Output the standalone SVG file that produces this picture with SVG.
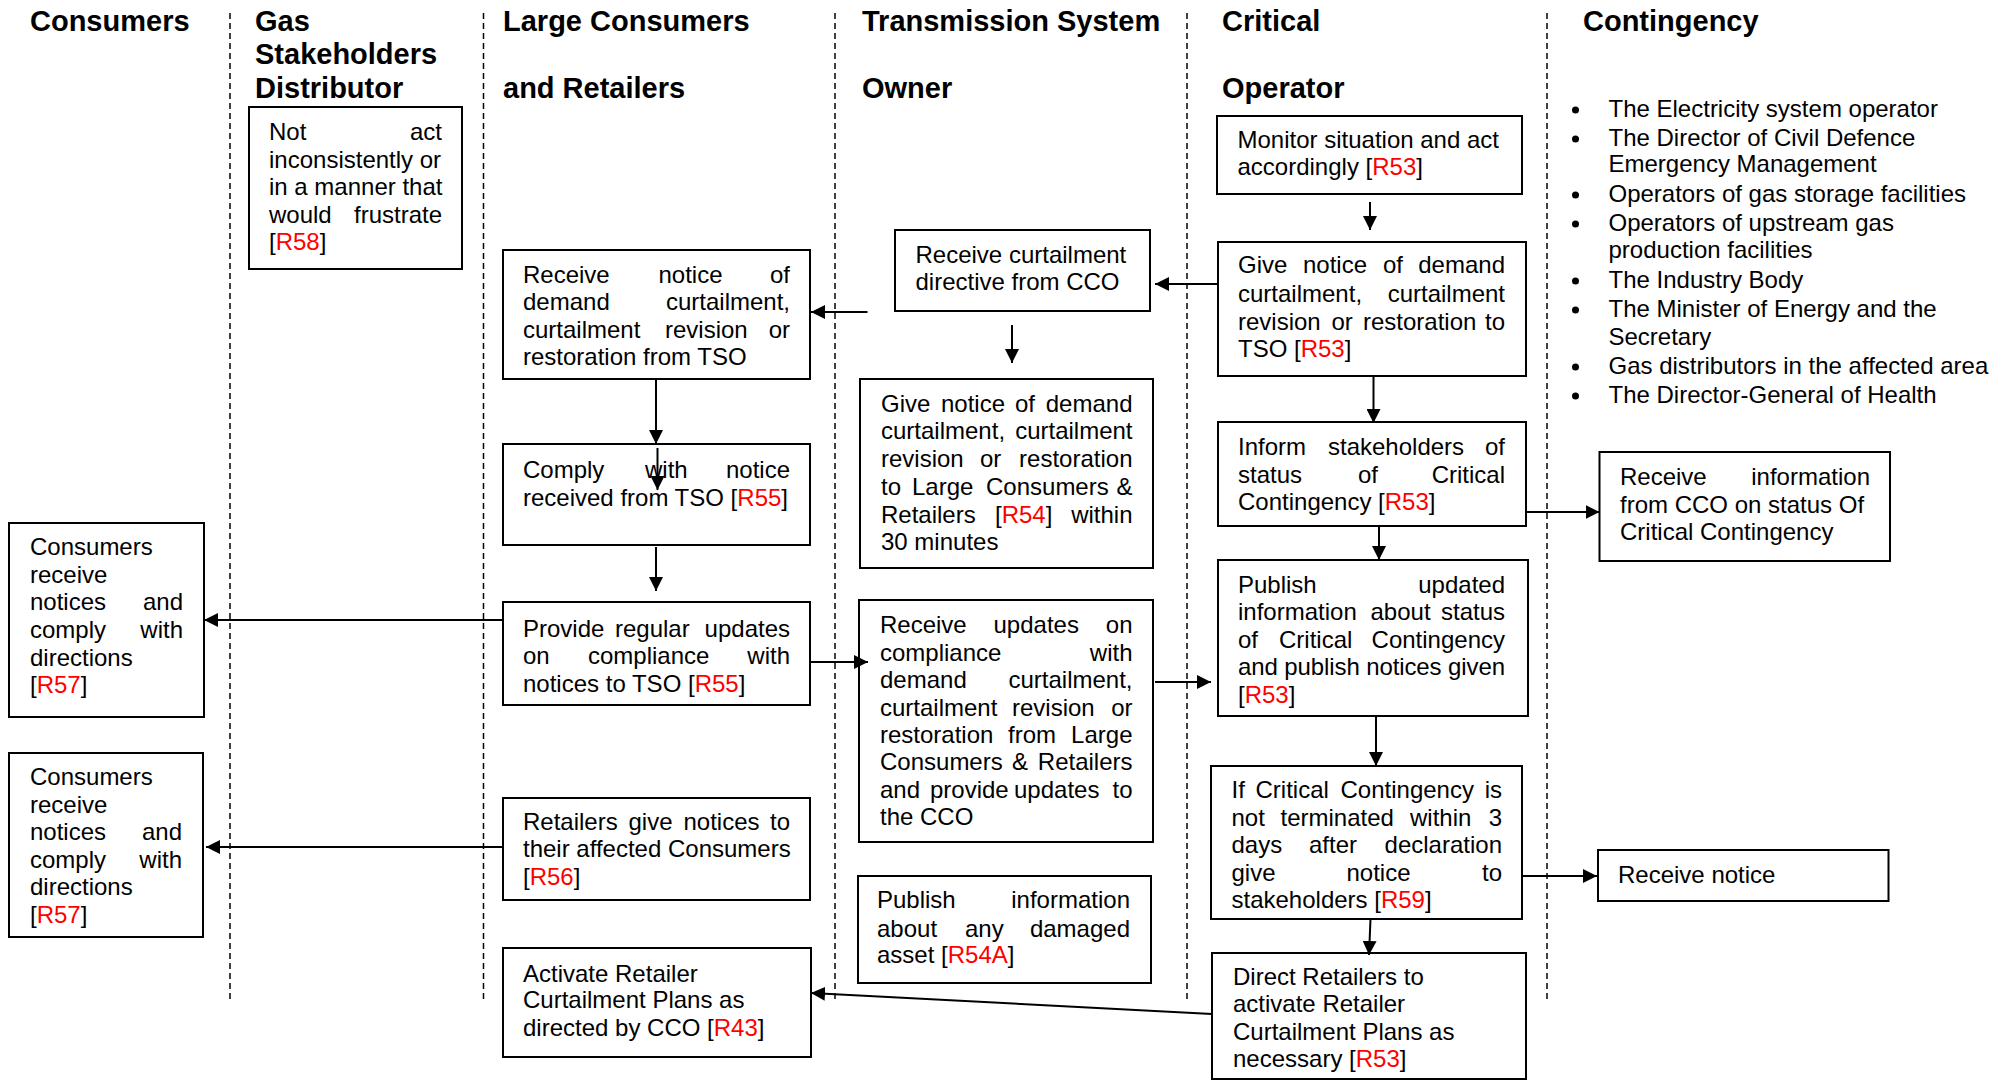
<svg xmlns="http://www.w3.org/2000/svg" width="2007" height="1080" viewBox="0 0 2007 1080">
<style>
.bg{fill:#fff}
.box{fill:#fff;stroke:#000;stroke-width:2}
.t{font-family:'Liberation Sans',Arial,sans-serif;font-size:24px;fill:#000}
.h{font-family:'Liberation Sans',Arial,sans-serif;font-size:29px;font-weight:bold;fill:#000}
.r{fill:#ff0000}
.lane{stroke:#000;stroke-width:1.5;stroke-dasharray:6 4;fill:none}
.c{stroke:#000;stroke-width:2;fill:none;marker-end:url(#ah)}
.e{text-anchor:end}
</style>
<defs>
<marker id="ah" markerUnits="userSpaceOnUse" markerWidth="14" markerHeight="14" refX="14" refY="7" orient="auto">
<path d="M0,0 L14,7 L0,14 z" fill="#000"/>
</marker>
</defs>
<rect class="bg" x="0" y="0" width="2007" height="1080"/>

<g id="lanes">
<line class="lane" x1="230" y1="13" x2="230" y2="1000"/>
<line class="lane" x1="483.5" y1="13" x2="483.5" y2="1000"/>
<line class="lane" x1="835" y1="13" x2="835" y2="1000"/>
<line class="lane" x1="1187" y1="13" x2="1187" y2="1000"/>
<line class="lane" x1="1547" y1="13" x2="1547" y2="1000"/>
</g>

<g id="headers">
<text class="h" x="30" y="31">Consumers</text>
<text class="h" x="255" y="31">Gas</text>
<text class="h" x="255" y="64">Stakeholders</text>
<text class="h" x="255" y="98">Distributor</text>
<text class="h" x="503" y="31">Large Consumers</text>
<text class="h" x="503" y="98">and Retailers</text>
<text class="h" x="862" y="31">Transmission System</text>
<text class="h" x="862" y="98">Owner</text>
<text class="h" x="1222" y="31">Critical</text>
<text class="h" x="1222" y="98">Operator</text>
<text class="h" x="1583" y="31">Contingency</text>
</g>

<g id="contingency-list">
<circle cx="1575.5" cy="110" r="3.5"/>
<circle cx="1575.5" cy="139" r="3.5"/>
<circle cx="1575.5" cy="195" r="3.5"/>
<circle cx="1575.5" cy="224" r="3.5"/>
<circle cx="1575.5" cy="281" r="3.5"/>
<circle cx="1575.5" cy="310" r="3.5"/>
<circle cx="1575.5" cy="367" r="3.5"/>
<circle cx="1575.5" cy="396" r="3.5"/>
<text class="t" x="1608.5" y="117">The Electricity system operator</text>
<text class="t" x="1608.5" y="146">The Director of Civil Defence</text>
<text class="t" x="1608.5" y="172">Emergency Management</text>
<text class="t" x="1608.5" y="202">Operators of gas storage facilities</text>
<text class="t" x="1608.5" y="231">Operators of upstream gas</text>
<text class="t" x="1608.5" y="258">production facilities</text>
<text class="t" x="1608.5" y="288">The Industry Body</text>
<text class="t" x="1608.5" y="317">The Minister of Energy and the</text>
<text class="t" x="1608.5" y="345">Secretary</text>
<text class="t" x="1608.5" y="374">Gas distributors in the affected area</text>
<text class="t" x="1608.5" y="403">The Director-General of Health</text>
</g>

<g id="n-not-act">
<rect class="box" x="249" y="107" width="213" height="162"/>
<text class="t" y="140"><tspan x="269">Not</tspan><tspan x="442" class="e">act</tspan></text>
<text class="t" x="269" y="168">inconsistently or</text>
<text class="t" x="269" y="195">in a manner that</text>
<text class="t" y="223"><tspan x="269">would</tspan><tspan x="442" class="e">frustrate</tspan></text>
<text class="t" x="269" y="250">[<tspan class="r">R58</tspan>]</text>
</g>

<g id="n-lc-receive">
<rect class="box" x="503" y="250" width="307" height="129"/>
<text class="t" y="283"><tspan x="523">Receive</tspan><tspan x="658.5">notice</tspan><tspan x="790" class="e">of</tspan></text>
<text class="t" y="310"><tspan x="523">demand</tspan><tspan x="790" class="e">curtailment,</tspan></text>
<text class="t" y="338"><tspan x="523">curtailment</tspan><tspan x="665">revision</tspan><tspan x="790" class="e">or</tspan></text>
<text class="t" x="523" y="365">restoration from TSO</text>
</g>

<g id="n-lc-comply">
<rect class="box" x="503" y="444" width="307" height="101"/>
<text class="t" y="478"><tspan x="523">Comply</tspan><tspan x="645">with</tspan><tspan x="790" class="e">notice</tspan></text>
<text class="t" x="523" y="506">received from TSO [<tspan class="r">R55</tspan>]</text>
</g>

<g id="n-lc-provide">
<rect class="box" x="503" y="602" width="307" height="103"/>
<text class="t" y="637"><tspan x="523">Provide</tspan><tspan x="615">regular</tspan><tspan x="790" class="e">updates</tspan></text>
<text class="t" y="664"><tspan x="523">on</tspan><tspan x="588">compliance</tspan><tspan x="790" class="e">with</tspan></text>
<text class="t" x="523" y="692">notices to TSO [<tspan class="r">R55</tspan>]</text>
</g>

<g id="n-lc-retailers">
<rect class="box" x="503" y="798" width="307" height="102"/>
<text class="t" y="830"><tspan x="523">Retailers</tspan><tspan x="628.5">give</tspan><tspan x="683.5">notices</tspan><tspan x="790" class="e">to</tspan></text>
<text class="t" x="523" y="857">their affected Consumers</text>
<text class="t" x="523" y="885">[<tspan class="r">R56</tspan>]</text>
</g>

<g id="n-lc-activate">
<rect class="box" x="503" y="948" width="308" height="109"/>
<text class="t" x="523" y="982">Activate Retailer</text>
<text class="t" x="523" y="1008">Curtailment Plans as</text>
<text class="t" x="523" y="1036">directed by CCO [<tspan class="r">R43</tspan>]</text>
</g>

<g id="n-consumers-1">
<rect class="box" x="9" y="523" width="195" height="194"/>
<text class="t" x="30" y="555">Consumers</text>
<text class="t" x="30" y="583">receive</text>
<text class="t" y="610"><tspan x="30">notices</tspan><tspan x="183" class="e">and</tspan></text>
<text class="t" y="638"><tspan x="30">comply</tspan><tspan x="183" class="e">with</tspan></text>
<text class="t" x="30" y="666">directions</text>
<text class="t" x="30" y="693">[<tspan class="r">R57</tspan>]</text>
</g>

<g id="n-consumers-2">
<rect class="box" x="9" y="753" width="194" height="184"/>
<text class="t" x="30" y="785">Consumers</text>
<text class="t" x="30" y="813">receive</text>
<text class="t" y="840"><tspan x="30">notices</tspan><tspan x="182" class="e">and</tspan></text>
<text class="t" y="868"><tspan x="30">comply</tspan><tspan x="182" class="e">with</tspan></text>
<text class="t" x="30" y="895">directions</text>
<text class="t" x="30" y="923">[<tspan class="r">R57</tspan>]</text>
</g>

<g id="n-tso-receive">
<rect class="box" x="895" y="230" width="255" height="81"/>
<text class="t" x="915.5" y="263">Receive curtailment</text>
<text class="t" x="915.5" y="290">directive from CCO</text>
</g>

<g id="n-tso-give">
<rect class="box" x="860" y="379" width="293" height="189"/>
<text class="t" y="412"><tspan x="881">Give</tspan><tspan x="941">notice</tspan><tspan x="1015">of</tspan><tspan x="1132.5" class="e">demand</tspan></text>
<text class="t" y="439"><tspan x="881">curtailment,</tspan><tspan x="1132.5" class="e">curtailment</tspan></text>
<text class="t" y="467"><tspan x="881">revision</tspan><tspan x="980">or</tspan><tspan x="1132.5" class="e">restoration</tspan></text>
<text class="t" y="495"><tspan x="881">to</tspan><tspan x="912">Large</tspan><tspan x="986">Consumers</tspan><tspan x="1132.5" class="e">&amp;</tspan></text>
<text class="t" y="523"><tspan x="881">Retailers</tspan><tspan x="995">[</tspan><tspan class="r">R54</tspan>]<tspan x="1132.5" class="e">within</tspan></text>
<text class="t" x="881" y="550">30 minutes</text>
</g>

<g id="n-tso-updates">
<rect class="box" x="859" y="600" width="294" height="242"/>
<text class="t" y="633"><tspan x="880">Receive</tspan><tspan x="993.5">updates</tspan><tspan x="1132.5" class="e">on</tspan></text>
<text class="t" y="661"><tspan x="880">compliance</tspan><tspan x="1132.5" class="e">with</tspan></text>
<text class="t" y="688"><tspan x="880">demand</tspan><tspan x="1132.5" class="e">curtailment,</tspan></text>
<text class="t" y="716"><tspan x="880">curtailment</tspan><tspan x="1012">revision</tspan><tspan x="1132.5" class="e">or</tspan></text>
<text class="t" y="743"><tspan x="880">restoration</tspan><tspan x="1008">from</tspan><tspan x="1132.5" class="e">Large</tspan></text>
<text class="t" y="770"><tspan x="880">Consumers</tspan><tspan x="1012">&amp;</tspan><tspan x="1132.5" class="e">Retailers</tspan></text>
<text class="t" y="798"><tspan x="880">and</tspan><tspan x="930">provide</tspan><tspan x="1014">updates</tspan><tspan x="1132.5" class="e">to</tspan></text>
<text class="t" x="880" y="825">the CCO</text>
</g>

<g id="n-tso-publish">
<rect class="box" x="858" y="876" width="293" height="107"/>
<text class="t" y="908"><tspan x="877">Publish</tspan><tspan x="1130" class="e">information</tspan></text>
<text class="t" y="937"><tspan x="877">about</tspan><tspan x="965">any</tspan><tspan x="1130" class="e">damaged</tspan></text>
<text class="t" x="877" y="963">asset [<tspan class="r">R54A</tspan>]</text>
</g>

<g id="n-cco-monitor">
<rect class="box" x="1217" y="116" width="305" height="78"/>
<text class="t" x="1237.5" y="148">Monitor situation and act</text>
<text class="t" x="1237.5" y="175">accordingly [<tspan class="r">R53</tspan>]</text>
</g>

<g id="n-cco-give">
<rect class="box" x="1218" y="242" width="308" height="134"/>
<text class="t" y="273"><tspan x="1238">Give</tspan><tspan x="1303">notice</tspan><tspan x="1383">of</tspan><tspan x="1505" class="e">demand</tspan></text>
<text class="t" y="302"><tspan x="1238">curtailment,</tspan><tspan x="1505" class="e">curtailment</tspan></text>
<text class="t" y="330"><tspan x="1238">revision</tspan><tspan x="1331.5">or</tspan><tspan x="1363">restoration</tspan><tspan x="1505" class="e">to</tspan></text>
<text class="t" x="1238" y="357">TSO [<tspan class="r">R53</tspan>]</text>
</g>

<g id="n-cco-inform">
<rect class="box" x="1218" y="422" width="308" height="104"/>
<text class="t" y="455"><tspan x="1238">Inform</tspan><tspan x="1328">stakeholders</tspan><tspan x="1505" class="e">of</tspan></text>
<text class="t" y="483"><tspan x="1238">status</tspan><tspan x="1358">of</tspan><tspan x="1505" class="e">Critical</tspan></text>
<text class="t" x="1238" y="510">Contingency [<tspan class="r">R53</tspan>]</text>
</g>

<g id="n-cco-publish">
<rect class="box" x="1218" y="560" width="310" height="156"/>
<text class="t" y="593"><tspan x="1238">Publish</tspan><tspan x="1505" class="e">updated</tspan></text>
<text class="t" y="620"><tspan x="1238">information</tspan><tspan x="1370.5">about</tspan><tspan x="1505" class="e">status</tspan></text>
<text class="t" y="648"><tspan x="1238">of</tspan><tspan x="1279">Critical</tspan><tspan x="1505" class="e">Contingency</tspan></text>
<text class="t" x="1238" y="675" textLength="267" lengthAdjust="spacing">and publish notices given</text>
<text class="t" x="1238" y="703">[<tspan class="r">R53</tspan>]</text>
</g>

<g id="n-cco-if">
<rect class="box" x="1211" y="766" width="311" height="153"/>
<text class="t" y="798"><tspan x="1231.5">If</tspan><tspan x="1255.5">Critical</tspan><tspan x="1340.5">Contingency</tspan><tspan x="1502" class="e">is</tspan></text>
<text class="t" y="826"><tspan x="1231.5">not</tspan><tspan x="1280.5">terminated</tspan><tspan x="1410">within</tspan><tspan x="1502" class="e">3</tspan></text>
<text class="t" y="853"><tspan x="1231.5">days</tspan><tspan x="1309">after</tspan><tspan x="1502" class="e">declaration</tspan></text>
<text class="t" y="881"><tspan x="1231.5">give</tspan><tspan x="1346.5">notice</tspan><tspan x="1502" class="e">to</tspan></text>
<text class="t" x="1231.5" y="908">stakeholders [<tspan class="r">R59</tspan>]</text>
</g>

<g id="n-cco-direct">
<rect class="box" x="1212" y="953" width="314" height="126"/>
<text class="t" x="1233" y="985">Direct Retailers to</text>
<text class="t" x="1233" y="1012">activate Retailer</text>
<text class="t" x="1233" y="1040">Curtailment Plans as</text>
<text class="t" x="1233" y="1067">necessary [<tspan class="r">R53</tspan>]</text>
</g>

<g id="n-cont-receive-info">
<rect class="box" x="1599.5" y="452" width="290.5" height="109"/>
<text class="t" y="485"><tspan x="1620">Receive</tspan><tspan x="1870" class="e">information</tspan></text>
<text class="t" x="1620" y="513">from CCO on status Of</text>
<text class="t" x="1620" y="540">Critical Contingency</text>
</g>

<g id="n-cont-receive-notice">
<rect class="box" x="1598" y="850" width="290.5" height="51"/>
<text class="t" x="1618" y="883">Receive notice</text>
</g>

<g id="connectors">
<line class="c" x1="1370" y1="202" x2="1370" y2="230"/>
<line class="c" x1="1218" y1="284" x2="1155" y2="284"/>
<line class="c" x1="1012" y1="325" x2="1012" y2="363"/>
<line class="c" x1="867.5" y1="312" x2="811" y2="312"/>
<line class="c" x1="1373.5" y1="376" x2="1373.5" y2="423"/>
<line class="c" x1="656" y1="379" x2="656" y2="444"/>
<line class="c" x1="657.5" y1="448" x2="657.5" y2="490"/>
<line class="c" x1="656" y1="547" x2="656" y2="591"/>
<line class="c" x1="503" y1="620" x2="204" y2="620"/>
<line class="c" x1="810" y1="662" x2="868" y2="662"/>
<line class="c" x1="1155" y1="682" x2="1211" y2="682"/>
<line class="c" x1="1526" y1="512" x2="1599.5" y2="512"/>
<line class="c" x1="1379" y1="526" x2="1379" y2="560"/>
<line class="c" x1="1376" y1="716" x2="1376" y2="766"/>
<line class="c" x1="1521.5" y1="876" x2="1597" y2="876"/>
<line class="c" x1="1370.5" y1="919" x2="1369" y2="955"/>
<line class="c" x1="503" y1="847" x2="206" y2="847"/>
<line class="c" x1="1212" y1="1014" x2="811" y2="993"/>
</g>
</svg>
